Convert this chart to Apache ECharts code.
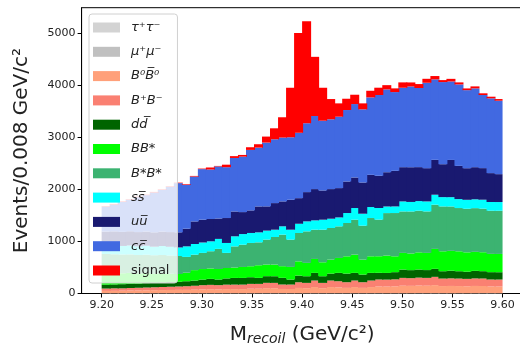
<!DOCTYPE html>
<html>
<head>
<meta charset="utf-8">
<script src="https://cdn.jsdelivr.net/npm/echarts@6/dist/echarts.min.js"></script>
<style>
html, body { margin: 0; padding: 0; background: #fff; }
#main { width: 520px; height: 345px; }
</style>
</head>
<body>
<div id="main"></div>
<script>
// bin edges of the recoil mass histogram (GeV/c^2)
var binEdges = [9.200, 9.208, 9.216, 9.224, 9.232, 9.240, 9.248, 9.256, 9.264, 9.272,
    9.280, 9.288, 9.296, 9.304, 9.312, 9.320, 9.328, 9.336, 9.344, 9.352,
    9.360, 9.368, 9.376, 9.384, 9.392, 9.400, 9.408, 9.416, 9.424, 9.432,
    9.440, 9.448, 9.456, 9.464, 9.472, 9.480, 9.488, 9.496, 9.504, 9.512,
    9.520, 9.528, 9.536, 9.544, 9.552, 9.560, 9.568, 9.576, 9.584, 9.592, 9.600];

var xTicks = [9.20, 9.25, 9.30, 9.35, 9.40, 9.45, 9.50, 9.55, 9.60];
var yTicks = [0, 1000, 2000, 3000, 4000, 5000];

// events per bin, stacked bottom to top
var tautau = [4,3,4,5,4,3,4,4,5,4, 4,3,4,4,5,4,4,3,4,4, 5,4,4,4,3,4,5,4,4,4, 4,3,4,4,5,4,4,4,3,4, 4,5,4,4,4,3,4,4,5,4];
var mumu   = [3,3,2,3,3,4,3,3,2,3, 3,3,3,4,3,3,2,3,3,3, 3,3,4,3,3,3,2,3,3,3, 3,4,3,3,3,2,3,3,3,4, 3,3,3,2,3,3,3,4,3,3];
var b0b0   = [43,45,48,50,53,55,57,59,61,63, 63,68,73,75,73,78,79,79,85,85, 95,95,79,79,101,95,117,95,117,111, 101,117,101,117,127,127,131,143,141,145, 143,153,136,139,136,133,138,136,127,127];
var bpbm   = [45,48,45,48,50,53,56,59,62,65, 70,75,80,83,80,85,86,86,93,93, 102,102,86,86,109,102,125,102,125,118, 109,125,109,125,134,134,134,150,148,152, 150,159,144,146,144,142,145,144,134,134];
var ddbar  = [75,75,80,80,80,85,85,85,90,90, 96,100,108,115,108,120,128,128,128,115, 128,128,128,96,128,128,147,128,134,160, 166,147,147,147,128,128,138,160,154,156, 150,154,141,148,141,138,145,141,141,141];
var bbstar = [230,220,210,210,195,190,175,175,160,150, 164,200,202,200,202,200,200,211,211,243, 224,224,224,243,274,256,268,268,268,287, 332,351,287,319,319,334,305,320,320,330, 330,383,383,380,383,372,365,364,351,351];
var bsbs   = [360,360,360,355,355,355,355,355,350,345, 303,297,310,331,386,290,406,428,447,440, 479,530,606,524,544,606,562,626,607,607, 639,671,652,735,703,816,831,797,807,800, 797,849,862,853,831,837,840,837,830,830];
var ssbar  = [165,173,165,172,165,173,165,172,168,165, 203,205,200,191,192,191,194,204,192,192, 172,140,160,191,178,192,179,192,179,172, 192,224,230,211,224,127,127,192,183,185, 192,192,179,179,172,172,170,172,167,167];
var uubar  = [265,267,270,273,275,272,275,278,282,290, 339,434,438,428,392,479,477,422,434,498, 466,511,479,575,492,562,601,562,569,563, 606,587,600,619,619,658,684,658,667,652, 639,670,632,715,638,607,617,607,555,536];
var ccbar  = [480,515,575,605,670,700,765,800,870,945, 843,862,972,952,1000,977,1028,1066,1162,1130, 1226,1226,1226,1201,1258,1323,1404,1340,1341,1372, 1373,1411,1405,1488,1552,1591,1513,1526,1552,1520, 1641,1546,1578,1508,1565,1500,1514,1405,1437,1411];
var signal = [8,12,10,9,11,10,12,10,10,10, 12,12,10,38,10,48,35,32,51,65, 115,211,390,951,1916,1959,1137,633,389,256, 217,179,115,127,140,82,71,103,77,76, 76,64,38,50,39,33,38,32,31,32];

var layers = [
    {name: 'τ⁺τ⁻', values: tautau, color: '#d3d3d3'},
    {name: 'μ⁺μ⁻', values: mumu, color: '#c0c0c0'},
    {name: 'B⁰B̅⁰', values: b0b0, color: '#ffa07a'},
    {name: 'B⁺B⁻', values: bpbm, color: '#fa8072'},
    {name: 'dd̅', values: ddbar, color: '#006400'},
    {name: 'BB*', values: bbstar, color: '#00ff00'},
    {name: 'B*B*', values: bsbs, color: '#3cb371'},
    {name: 'ss̅', values: ssbar, color: '#00ffff'},
    {name: 'uu̅', values: uubar, color: '#191970'},
    {name: 'cc̅', values: ccbar, color: '#4169e1'},
    {name: 'signal', values: signal, color: '#ff0000'}
];

var nBins = binEdges.length - 1;

function renderBin(params, api) {
    var lo = api.coord([api.value(0), api.value(2)]);
    var hi = api.coord([api.value(1), api.value(3)]);
    // overlap the next bin by a pixel so no seams show
    var extra = params.dataIndex < nBins - 1 ? 1 : 0;
    return {
        type: 'rect',
        shape: {x: lo[0], y: hi[1], width: hi[0] - lo[0] + extra, height: lo[1] - hi[1]},
        style: {fill: api.visual('color')}
    };
}

// stack the layers
var base = binEdges.slice(1).map(function () { return 0; });
var series = layers.map(function (layer) {
    var data = layer.values.map(function (v, i) {
        var row = [binEdges[i], binEdges[i + 1], base[i], base[i] + v];
        base[i] += v;
        return row;
    });
    return {
        name: layer.name,
        type: 'custom',
        renderItem: renderBin,
        itemStyle: {color: layer.color},
        encode: {x: [0, 1], y: [2, 3]},
        data: data,
        silent: true
    };
});

var font = 'DejaVu Sans';
var dom = document.getElementById('main');
var myChart = echarts.init(dom);
var option = {
    animation: false,
    grid: {
        left: 81.6, top: 7.7, width: 441, height: 285.8,
        containLabel: false,
        outerBoundsMode: 'none',
        show: true, borderColor: '#000', borderWidth: 1
    },
    legend: {
        orient: 'vertical',
        left: 89, top: 14,
        z: 10,
        selectedMode: false,
        icon: 'rect',
        itemWidth: 27, itemHeight: 10,
        itemGap: 11.3,
        padding: [7, 8, 6, 4],
        backgroundColor: 'rgba(255,255,255,0.8)',
        borderColor: '#d0d0d0', borderWidth: 1, borderRadius: 3,
        data: layers.map(function (l) { return l.name; }),
        formatter: function (name) {
            return name === 'signal' ? '{n|signal}' : '{m|' + name + '}';
        },
        textStyle: {
            padding: [0, 0, 0, 6],
            rich: {
                m: {fontFamily: font, fontStyle: 'italic', fontSize: 13, color: '#222', lineHeight: 16},
                n: {fontFamily: font, fontSize: 13, color: '#222', lineHeight: 16}
            }
        }
    },
    xAxis: {
        type: 'value',
        min: 9.18, max: 9.62,
        splitLine: {show: false},
        axisLine: {lineStyle: {color: '#000', width: 1}},
        axisTick: {customValues: xTicks, length: 4, lineStyle: {color: '#000'}},
        axisLabel: {
            customValues: xTicks,
            formatter: function (v) { return v.toFixed(2); },
            fontFamily: font, fontSize: 11, color: '#222', margin: 6
        },
        name: '{a|M}{b|recoil}{a| (GeV/c²)}',
        nameLocation: 'middle',
        nameGap: 29,
        nameTextStyle: {
            rich: {
                a: {fontFamily: font, fontSize: 20, color: '#222'},
                b: {fontFamily: font, fontSize: 14, fontStyle: 'italic', color: '#222', padding: [10, 0, 0, 0]}
            }
        }
    },
    yAxis: {
        type: 'value',
        min: 0, max: 5491,
        splitLine: {show: false},
        axisLine: {show: true, lineStyle: {color: '#000', width: 1}},
        axisTick: {show: true, customValues: yTicks, length: 4, lineStyle: {color: '#000'}},
        axisLabel: {
            customValues: yTicks,
            formatter: function (v) { return String(v); },
            fontFamily: font, fontSize: 11, color: '#222', margin: 6
        },
        name: 'Events/0.008 GeV/c²',
        nameLocation: 'middle',
        nameGap: 50,
        nameTextStyle: {fontFamily: font, fontSize: 20, color: '#222'}
    },
    series: series
};
myChart.setOption(option, true);

window.onresize = function () {
    myChart.resize();
};
</script>
</body>
</html>
